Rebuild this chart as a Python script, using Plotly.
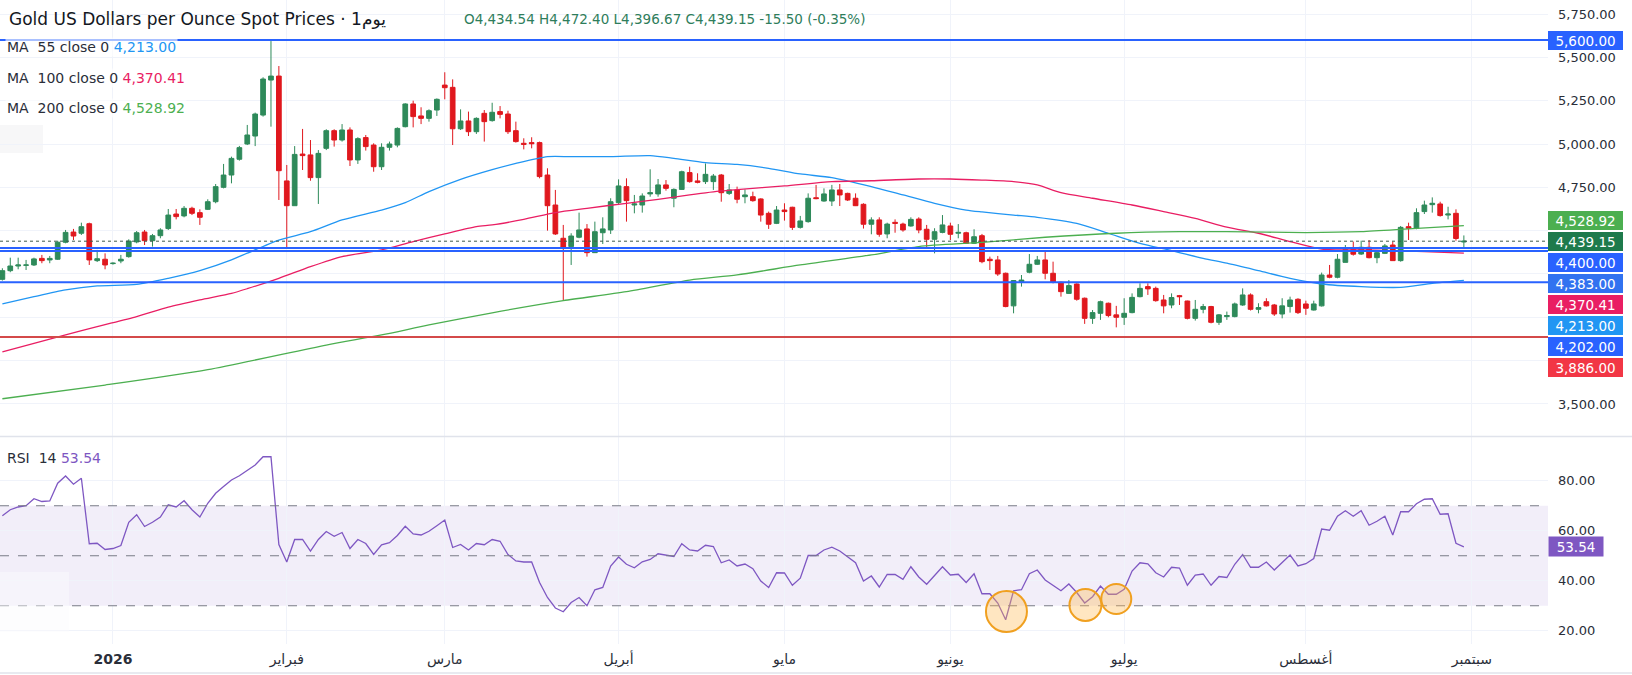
import pandas as pd
import plotly.graph_objects as go

# ───────────────────────── data ─────────────────────────
# daily bars 11 Dec 2025 -> 31 Aug 2026 (weekdays, no Christmas / Good Friday)
holidays = ["2025-12-25", "2026-04-03"]
days = [d for d in pd.bdate_range("2025-12-11", "2026-08-31")
        if d.strftime("%Y-%m-%d") not in holidays]

opens = [4219, 4269, 4296, 4300, 4302, 4340, 4331, 4335, 4433, 4492,
         4485, 4540, 4327, 4335, 4310, 4325, 4350, 4435, 4492, 4442,
         4471, 4512, 4596, 4585, 4629, 4604, 4623, 4667, 4750, 4821,
         4912, 5000, 5046, 5167, 5369, 5392, 4787, 4644, 4942, 4937,
         4806, 4975, 5077, 5023, 5081, 4908, 5037, 4994, 4869, 4981,
         4994, 5100, 5231, 5162, 5148, 5196, 5340, 5327, 5088, 5133,
         5071, 5177, 5135, 5187, 5173, 5077, 5004, 5008, 5008, 4821,
         4648, 4456, 4408, 4462, 4510, 4373, 4488, 4504, 4662, 4754,
         4648, 4648, 4712, 4712, 4764, 4687, 4738, 4835, 4787, 4783,
         4783, 4821, 4715, 4735, 4696, 4696, 4683, 4600, 4542, 4619,
         4635, 4519, 4552, 4690, 4671, 4671, 4735, 4715, 4687, 4652,
         4537, 4562, 4481, 4548, 4538, 4527, 4567, 4508, 4450, 4490,
         4527, 4485, 4488, 4427, 4471, 4335, 4331, 4254, 4066, 4206,
         4260, 4306, 4331, 4254, 4202, 4138, 4192, 4110, 3994, 4023,
         4081, 4014, 4000, 4027, 4119, 4177, 4167, 4100, 4071, 4125,
         4094, 3994, 4046, 4062, 3971, 4004, 4004, 4071, 4129, 4046,
         4090, 4071, 4019, 4062, 4104, 4077, 4042, 4066, 4244, 4231,
         4317, 4392, 4365, 4404, 4344, 4369, 4417, 4327, 4523, 4514,
         4610, 4650, 4654, 4590, 4600, 4434.54]
highs = [4283, 4344, 4344, 4331, 4344, 4360, 4354, 4442, 4504, 4510,
         4546, 4546, 4389, 4369, 4317, 4360, 4450, 4498, 4504, 4481,
         4514, 4625, 4625, 4642, 4638, 4623, 4681, 4769, 4885, 4927,
         4989, 5110, 5181, 5385, 5594, 5450, 4879, 4988, 5087, 5023,
         4965, 5085, 5085, 5115, 5096, 5039, 5052, 5004, 5004, 5014,
         5096, 5235, 5250, 5212, 5200, 5263, 5414, 5373, 5200, 5187,
         5154, 5196, 5238, 5219, 5192, 5129, 5033, 5039, 5014, 4860,
         4735, 4533, 4485, 4604, 4538, 4552, 4577, 4687, 4796, 4802,
         4706, 4715, 4854, 4798, 4792, 4744, 4846, 4869, 4831, 4888,
         4827, 4827, 4769, 4754, 4738, 4725, 4687, 4610, 4642, 4658,
         4638, 4585, 4715, 4764, 4744, 4764, 4769, 4719, 4715, 4658,
         4577, 4577, 4546, 4565, 4546, 4577, 4577, 4533, 4514, 4590,
         4546, 4538, 4494, 4508, 4481, 4350, 4354, 4258, 4215, 4244,
         4365, 4354, 4379, 4321, 4206, 4215, 4196, 4114, 4042, 4096,
         4085, 4066, 4110, 4138, 4196, 4196, 4177, 4129, 4138, 4129,
         4096, 4100, 4077, 4066, 4019, 4033, 4085, 4167, 4138, 4081,
         4110, 4077, 4110, 4119, 4110, 4096, 4096, 4258, 4302, 4365,
         4417, 4437, 4442, 4446, 4385, 4423, 4437, 4527, 4546, 4629,
         4673, 4692, 4667, 4638, 4623, 4472.40]
lows = [4212, 4260, 4277, 4273, 4296, 4312, 4312, 4331, 4427, 4446,
        4475, 4302, 4319, 4277, 4304, 4312, 4344, 4427, 4417, 4408,
        4456, 4504, 4565, 4577, 4590, 4533, 4619, 4658, 4744, 4773,
        4904, 4994, 4988, 5158, 5100, 4677, 4398, 4644, 4850, 4788,
        4654, 4965, 4985, 5014, 4873, 4885, 4962, 4840, 4850, 4962,
        4981, 5096, 5096, 5115, 5129, 5162, 5258, 4994, 5081, 5046,
        5058, 5014, 5129, 5148, 5058, 5008, 4969, 4975, 4802, 4500,
        4475, 4096, 4302, 4456, 4350, 4373, 4423, 4481, 4654, 4552,
        4600, 4604, 4696, 4696, 4731, 4635, 4735, 4777, 4773, 4769,
        4735, 4667, 4706, 4658, 4658, 4667, 4552, 4510, 4538, 4558,
        4504, 4512, 4546, 4681, 4667, 4642, 4642, 4671, 4642, 4512,
        4479, 4465, 4456, 4488, 4494, 4523, 4485, 4404, 4369, 4485,
        4446, 4456, 4423, 4423, 4312, 4273, 4239, 4058, 4023, 4177,
        4254, 4302, 4219, 4196, 4119, 4135, 4096, 3962, 3962, 3985,
        4000, 3942, 3956, 4023, 4115, 4129, 4090, 4023, 4052, 4071,
        3988, 3981, 4023, 3965, 3956, 3985, 4000, 4066, 4039, 4023,
        4062, 4008, 3994, 4027, 4019, 4014, 4039, 4062, 4225, 4225,
        4317, 4356, 4360, 4340, 4312, 4365, 4327, 4321, 4446, 4508,
        4596, 4604, 4581, 4565, 4442, 4396.67]
closes = [4269, 4296, 4302, 4302, 4337, 4327, 4340, 4433, 4490, 4469,
          4523, 4331, 4338, 4302, 4312, 4335, 4440, 4488, 4442, 4471,
          4504, 4590, 4581, 4629, 4600, 4577, 4667, 4754, 4821, 4917,
          4979, 5052, 5173, 5375, 5392, 4846, 4644, 4940, 4933, 4806,
          4946, 5077, 5023, 5081, 4908, 5031, 4985, 4869, 4981, 5000,
          5090, 5231, 5158, 5148, 5192, 5258, 5325, 5088, 5133, 5071,
          5148, 5129, 5183, 5171, 5071, 5014, 4998, 5002, 4812, 4644,
          4481, 4404, 4469, 4504, 4373, 4494, 4510, 4667, 4758, 4673,
          4654, 4700, 4719, 4764, 4744, 4738, 4840, 4783, 4779, 4825,
          4815, 4719, 4735, 4681, 4706, 4673, 4590, 4537, 4619, 4610,
          4519, 4556, 4687, 4685, 4712, 4735, 4706, 4677, 4644, 4537,
          4562, 4479, 4538, 4542, 4504, 4565, 4504, 4450, 4494, 4533,
          4479, 4490, 4427, 4465, 4321, 4327, 4250, 4062, 4212, 4215,
          4306, 4331, 4254, 4202, 4148, 4183, 4104, 3994, 4027, 4090,
          4010, 4000, 4023, 4115, 4167, 4164, 4096, 4066, 4114, 4119,
          3994, 4046, 4062, 3971, 4014, 4010, 4077, 4129, 4046, 4056,
          4066, 4019, 4066, 4100, 4027, 4052, 4077, 4244, 4231, 4335,
          4392, 4364, 4404, 4344, 4373, 4412, 4327, 4519, 4514, 4604,
          4648, 4658, 4587, 4596, 4454.65, 4439.15]

rsi14 = [66.0, 68.4, 69.5, 70.0, 72.8, 71.7, 71.9, 79.0, 81.9, 78.6,
         81.0, 54.8, 55.0, 52.5, 52.9, 54.1, 63.4, 66.4, 61.7, 63.4,
         65.5, 70.4, 69.5, 72.0, 68.4, 65.5, 71.0, 75.0, 77.7, 80.3,
         82.0, 84.0, 86.3, 89.6, 89.6, 54.5, 47.5, 56.5, 56.5, 51.9,
         56.5, 59.7, 57.8, 59.3, 52.9, 56.5, 54.9, 50.5, 54.4, 55.2,
         58.1, 61.8, 58.7, 58.3, 59.8, 62.0, 64.3, 53.3, 54.5, 52.3,
         54.9, 54.4, 56.5, 55.8, 50.5, 47.9, 47.5, 47.5, 39.3, 33.3,
         29.1, 27.6, 31.3, 33.3, 30.0, 36.4, 37.3, 45.9, 49.5, 46.6,
         45.2, 47.6, 48.5, 50.8, 50.1, 49.7, 54.8, 52.3, 51.9, 54.2,
         53.7, 47.2, 48.3, 45.9, 46.7, 44.8, 39.9, 37.3, 43.2, 43.1,
         38.2, 41.0, 50.1, 50.1, 52.3, 53.4, 51.9, 49.5, 47.2, 39.9,
         41.9, 37.5, 42.5, 42.5, 40.6, 45.6, 41.5, 38.6, 41.9, 45.6,
         42.3, 42.6, 39.3, 42.8, 34.8, 34.8, 31.1, 24.4, 36.0, 36.4,
         42.8, 44.3, 40.3, 38.2, 36.0, 38.7, 35.3, 31.1, 33.6, 37.9,
         34.6, 34.6, 36.6, 43.9, 47.2, 46.8, 43.2, 41.5, 45.4, 45.1,
         38.2, 42.3, 42.7, 38.2, 41.7, 41.3, 46.6, 50.5, 45.4, 45.4,
         47.5, 44.3, 47.5, 50.3, 45.9, 46.8, 48.9, 60.7, 60.2, 65.8,
         68.0, 65.8, 68.0, 62.2, 63.8, 65.8, 58.3, 67.6, 67.6, 70.8,
         72.6, 72.8, 66.6, 66.8, 55.0, 53.54]

# moving averages, sampled along the drawn lines (bar number, value)
ma55_bar = [0, 4, 8, 12, 17, 21, 25, 29, 31, 35, 39, 43, 48, 51, 54, 58,
            62, 65, 69, 72, 77, 82, 85, 89, 93, 97, 101, 105, 110, 114,
            118, 122, 124, 128, 131, 136, 140, 144, 148, 152, 155, 159,
            163, 167, 172, 177, 181, 185]
ma55 = [4077, 4119, 4158, 4181, 4190, 4225, 4269, 4331, 4370, 4446, 4494,
        4562, 4619, 4662, 4725, 4796, 4852, 4888, 4927, 4927, 4927, 4933,
        4917, 4892, 4882, 4860, 4827, 4806, 4754, 4706, 4658, 4619, 4608,
        4590, 4577, 4542, 4485, 4427, 4385, 4340, 4312, 4269, 4225, 4192,
        4177, 4173, 4196, 4213.00]
ma100_bar = [0, 4, 8, 12, 17, 21, 25, 29, 31, 35, 39, 43, 48, 52, 56, 60,
             62, 66, 70, 74, 79, 83, 87, 91, 93, 99, 105, 110, 116, 120,
             124, 128, 131, 134, 138, 143, 147, 151, 155, 159, 163, 167,
             172, 176, 180, 185]
ma100 = [3800, 3850, 3898, 3946, 4004, 4058, 4100, 4138, 4165, 4225, 4292,
         4350, 4389, 4437, 4481, 4523, 4533, 4565, 4604, 4629, 4658, 4681,
         4706, 4729, 4737, 4758, 4783, 4788, 4798, 4798, 4792, 4783, 4764,
         4719, 4687, 4648, 4610, 4571, 4520, 4485, 4437, 4394, 4389, 4385,
         4379, 4370.41]
ma200_bar = [0, 13, 26, 41, 48, 54, 62, 71, 79, 87, 93, 101, 110, 116, 124,
             132, 141, 149, 155, 165, 172, 178, 185]
ma200 = [3530, 3609, 3698, 3840, 3898, 3956, 4026, 4096, 4148, 4215, 4245,
         4302, 4360, 4408, 4432, 4462, 4485, 4494, 4494, 4489, 4494, 4510,
         4528.92]

# horizontal levels drawn on the chart
blue_levels = [5600, 4400, 4383, 4202]
red_levels = [3886]
last_price = closes[-1]
rsi_last = rsi14[-1]

month_labels = ["<b>2026</b>", "فبراير", "مارس", "أبريل", "مايو",
                "يونيو", "يوليو", "أغسطس", "سبتمبر"]
price_ticks = [3500, 3750, 4000, 4250, 4500, 4750, 5000, 5250, 5500, 5750]
hidden_ticks = [3750, 4000, 4250, 4500]   # covered by the price tags

# ───────────────────────────── styling ─────────────────────────────
FONT = "DejaVu Sans"
TXT = "#131722"
GRID = "#f0f3fa"
GREEN = "#2e8a5a"
RED = "#e0181e"
BLUE = "#2962ff"
LEVEL_RED = "#d44a4a"
C55, C100, C200 = "#2196f3", "#e91e63", "#4caf50"
PURPLE = "#7e57c2"

PLOT_W, PLOT_H = 1548, 644          # plot area in px (fig 1632x675)
PRICE_RANGE = [3315, 5831]
RSI_RANGE = [14.7, 97.5]
X_RANGE = [-0.3, 195.65]
PRICE_PX = 436                      # height of the price pane


def px(x):  # pixel -> paper x
    return x / PLOT_W


def py(y):  # pixel -> paper y
    return 1 - y / PLOT_H


bars = list(range(len(days)))
month_pos = [i for i in range(1, len(days)) if days[i].month != days[i - 1].month]
month_pos.append(len(days))         # 1 Sep, next session

fig = go.Figure()
fig.add_trace(go.Candlestick(
    x=bars, open=opens, high=highs, low=lows, close=closes,
    increasing=dict(line=dict(color=GREEN, width=1), fillcolor=GREEN),
    decreasing=dict(line=dict(color=RED, width=1), fillcolor=RED),
    whiskerwidth=0, xaxis="x", yaxis="y", hoverinfo="skip"))

for xs, ys, col in [(ma55_bar, ma55, C55), (ma100_bar, ma100, C100),
                    (ma200_bar, ma200, C200)]:
    fig.add_trace(go.Scatter(x=xs, y=ys, mode="lines", xaxis="x", yaxis="y",
                             line=dict(color=col, width=1.3, shape="spline",
                                       smoothing=0.7),
                             hoverinfo="skip"))

fig.add_trace(go.Scatter(x=bars, y=rsi14, mode="lines", xaxis="x", yaxis="y2",
                         line=dict(color=PURPLE, width=1.3), hoverinfo="skip"))

shapes = []
# RSI band and dashed bounds
shapes.append(dict(type="rect", xref="paper", yref="y2", x0=0, x1=1, y0=30, y1=70,
                   fillcolor="rgba(126,87,194,0.10)", line_width=0, layer="below"))
for lvl in (70, 50, 30):
    shapes.append(dict(type="line", xref="paper", yref="y2", x0=0, x1=1, y0=lvl, y1=lvl,
                       line=dict(color="#787b86", width=1, dash="dash")))
# faint legend-collapse boxes
shapes.append(dict(type="rect", xref="paper", yref="paper", x0=0, x1=px(43),
                   y0=py(153), y1=py(125), fillcolor="rgba(240,240,242,0.5)",
                   line_width=0, layer="below"))
shapes.append(dict(type="rect", xref="paper", yref="paper", x0=0, x1=px(69),
                   y0=py(632), y1=py(572), fillcolor="rgba(250,250,252,0.45)",
                   line_width=0))
# price levels
for lvl in blue_levels:
    shapes.append(dict(type="line", xref="paper", yref="y", x0=0, x1=1, y0=lvl, y1=lvl,
                       line=dict(color=BLUE, width=2)))
for lvl in red_levels:
    shapes.append(dict(type="line", xref="paper", yref="y", x0=0, x1=1, y0=lvl, y1=lvl,
                       line=dict(color=LEVEL_RED, width=2)))
shapes.append(dict(type="line", xref="paper", yref="y", x0=0, x1=1,
                   y0=last_price, y1=last_price,
                   line=dict(color="#3d5a4c", width=1, dash="dot")))
# pane separator and bottom border
for ypix in (436.5, 673):
    shapes.append(dict(type="line", xref="paper", yref="paper", x0=0, x1=1632 / PLOT_W,
                       y0=py(ypix), y1=py(ypix), line=dict(color="#e0e3eb", width=1.5)))

# orange highlight circles on the RSI lows (bar, rsi centre, radius px)
highlights = [(127.1, 27.7, 20.5), (137.1, 30.3, 16), (141.0, 32.7, 15)]
bar_px = PLOT_W / (X_RANGE[1] - X_RANGE[0])
rsi_px = (PLOT_H - PRICE_PX - 1) / (RSI_RANGE[1] - RSI_RANGE[0])
for b, r, rad in highlights:
    shapes.append(dict(type="circle", xref="x", yref="y2",
                       x0=b - rad / bar_px, x1=b + rad / bar_px,
                       y0=r - rad / rsi_px, y1=r + rad / rsi_px,
                       fillcolor="rgba(255,183,77,0.35)",
                       line=dict(color="#f0a020", width=2)))

ann = []
ann.append(dict(xref="paper", yref="paper", x=px(7), y=py(19), xanchor="left",
                yanchor="middle", showarrow=False,
                text="Gold US Dollars per Ounce Spot Prices · 1يوم",
                font=dict(family=FONT, size=17, color=TXT)))
ann.append(dict(xref="paper", yref="paper", x=px(462), y=py(19), xanchor="left",
                yanchor="middle", showarrow=False,
                text="O4,434.54 H4,472.40 L4,396.67 C4,439.15 -15.50 (-0.35%)",
                font=dict(family=FONT, size=13.5, color="#2e7d5b")))
legend_rows = [("55", ma55[-1], C55, 47), ("100", ma100[-1], C100, 78),
               ("200", ma200[-1], C200, 108)]
for n, v, col, ypix in legend_rows:
    ann.append(dict(xref="paper", yref="paper", x=px(5), y=py(ypix), xanchor="left",
                    yanchor="middle", showarrow=False,
                    bgcolor="rgba(255,255,255,0.6)",
                    text=f"MA\u00a0\u00a0{n} close 0 <span style='color:{col}'>{v:,.2f}</span>",
                    font=dict(family=FONT, size=14, color="#2a2e39")))
ann.append(dict(xref="paper", yref="paper", x=px(5), y=py(458), xanchor="left",
                yanchor="middle", showarrow=False,
                text=f"RSI\u00a0\u00a014 <span style='color:{PURPLE}'>{rsi_last:.2f}</span>",
                font=dict(family=FONT, size=14, color="#2a2e39")))

# right-hand price tags, stacked like the platform does around the last price
tags = sorted([(5600, BLUE), (ma200[-1], C200), (last_price, "#1e7a4c"),
               (4400, BLUE), (4383, "#3172f0"), (ma100[-1], C100),
               (ma55[-1], C55), (4202, BLUE), (3886, "#f23645")],
              key=lambda t: -t[0])
gap = 21 * (PRICE_RANGE[1] - PRICE_RANGE[0]) / PRICE_PX
anchor = [t[0] for t in tags].index(last_price)
pos = [t[0] for t in tags]
for k in range(anchor - 1, -1, -1):
    pos[k] = max(tags[k][0], pos[k + 1] + gap)
for k in range(anchor + 1, len(tags)):
    pos[k] = min(tags[k][0], pos[k - 1] - gap)
for (v, col), yv in zip(tags, pos):
    ann.append(dict(xref="paper", yref="y", x=1, y=yv, xanchor="left",
                    yanchor="middle", showarrow=False, text=f"{v:,.2f}",
                    bgcolor=col, borderwidth=0, borderpad=1,
                    width=73, height=17, align="center", valign="middle",
                    font=dict(family=FONT, size=13.5, color="white")))
ann.append(dict(xref="paper", yref="y2", x=1, y=rsi_last, xanchor="left",
                yanchor="middle", showarrow=False, text=f"{rsi_last:.2f}",
                bgcolor=PURPLE, borderpad=1, width=52, height=17, align="center",
                font=dict(family=FONT, size=13.5, color="white")))

price_text = ["" if t in hidden_ticks else f"{t:,.2f}" for t in price_ticks]

axis_font = dict(family=FONT, size=13, color="#2a2e39")
fig.update_layout(
    width=1632, height=675,
    margin=dict(l=0, r=84, t=0, b=31),
    paper_bgcolor="white", plot_bgcolor="white",
    showlegend=False, hovermode=False,
    boxgap=0.3, boxgroupgap=0.15,
    xaxis=dict(domain=[0, 1], anchor="y2", range=X_RANGE,
               tickmode="array", tickvals=month_pos, ticktext=month_labels,
               showgrid=True, gridcolor=GRID, gridwidth=1, zeroline=False,
               ticks="", showline=False, ticklabelstandoff=5,
               tickfont=dict(family=FONT, size=14, color="#2a2e39"),
               rangeslider=dict(visible=False)),
    yaxis=dict(domain=[1 - PRICE_PX / PLOT_H, 1], anchor="x", side="right",
               range=PRICE_RANGE, tickmode="array", tickvals=price_ticks,
               ticktext=price_text,
               showgrid=True, gridcolor=GRID, zeroline=False, ticks="",
               ticklabelstandoff=9, tickfont=axis_font),
    yaxis2=dict(domain=[0, (PLOT_H - PRICE_PX - 1) / PLOT_H], anchor="x",
                side="right", range=RSI_RANGE, tickvals=[20, 40, 60, 80],
                tickformat=".2f", showgrid=True, gridcolor=GRID, zeroline=False,
                ticks="", ticklabelstandoff=9, tickfont=axis_font),
    shapes=shapes, annotations=ann,
)

# the page body keeps the browser's default 8px margin otherwise
fig.write_html("out.html", config={"displayModeBar": False},
               post_script="document.body.style.margin='0px';")
